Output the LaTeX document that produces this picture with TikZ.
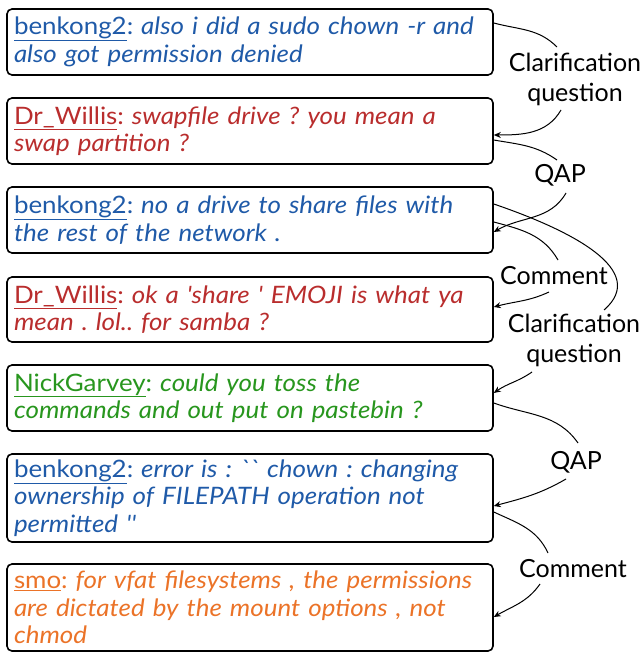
\documentclass[tikz,border=0pt]{standalone}
\usepackage{fontspec}
\setmainfont{Lato}
\newfontfamily\msgfont{Lato}[FakeStretch=1.08]
\usetikzlibrary{arrows.meta}
\definecolor{cblue}{RGB}{31,90,168}
\definecolor{cred}{RGB}{185,45,45}
\definecolor{cgreen}{RGB}{40,150,30}
\definecolor{corange}{RGB}{235,115,40}
\newcommand\speaker[1]{{\upshape\underline{#1}:}}
\frenchspacing
\begin{document}
\begin{tikzpicture}[x=1pt,y=-1pt,
  msg/.style={draw=black, line width=1.6pt, rounded corners=5pt, minimum width=486pt,
    text width=472pt, align=left, inner xsep=7pt, inner ysep=0pt,
    font=\msgfont\fontsize{24}{27.5}\selectfont\itshape\frenchspacing},
  lbl/.style={align=center, inner sep=0pt, font=\fontsize{25}{30}\selectfont},
  rel0/.style={line width=1pt},
  rel/.style={line width=1pt, -{Stealth[length=7pt,width=6pt]}}]
\useasboundingbox (0,0) rectangle (643,652);

\node[msg, minimum height=66pt, text=cblue] (b1) at (250,42)
  {\speaker{benkong2} also i did a sudo chown -r and\\also got permission denied};
\node[msg, minimum height=66pt, text=cred] (b2) at (250,131)
  {\speaker{Dr\_Willis} swapfile drive ? you mean a\\swap partition ?};
\node[msg, minimum height=66pt, text=cblue] (b3) at (250,220)
  {\speaker{benkong2} no a drive to share files with\\the rest of the network .};
\node[msg, minimum height=65pt, text=cred] (b4) at (250,309.5)
  {\speaker{Dr\_Willis} ok a 'share ' EMOJI is what ya\\mean . lol.. for samba ?};
\node[msg, minimum height=66pt, text=cgreen] (b5) at (250,398)
  {\speaker{NickGarvey} could you toss the\\commands and out put on pastebin ?};
\node[msg, minimum height=88pt, text=cblue] (b6) at (250,498)
  {\speaker{benkong2} error is : `` chown : changing\\ownership of FILEPATH operation not\\permitted ''};
\node[msg, minimum height=87pt, text=corange] (b7) at (250,607.5)
  {\speaker{smo} for vfat filesystems , the permissions\\are dictated by the mount options , not\\chmod};

\node[lbl] (cq1) at (575,79) {Clarification\\question};
\node[lbl] (qap1) at (560,175) {QAP};
\node[lbl] (com1) at (554,276) {Comment};
\node[lbl] (cq2) at (574,340) {Clarification\\question};
\node[lbl] (qap2) at (576,462) {QAP};
\node[lbl] (com2) at (573,569) {Comment};

% b1 -> b2 : Clarification question
\draw[rel0] ([yshift=19pt]b1.east) to[out=-15,in=135] ([xshift=-18pt,yshift=32pt]cq1.center);
\draw[rel] ([xshift=-14pt,yshift=-31pt]cq1.center) to[out=-120,in=0] ([yshift=-4pt]b2.east);
% b2 -> b3 : QAP
\draw[rel0] ([yshift=-9pt]b2.east) to[out=-10,in=145] ([xshift=-3pt,yshift=15pt]qap1.center);
\draw[rel] ([xshift=6pt,yshift=-18pt]qap1.center) to[out=-120,in=30] ([yshift=-12pt]b3.east);
% b3 -> b4 : Comment
\draw[rel0] ([yshift=-2pt]b3.east) to[out=-15,in=120] ([xshift=4pt,yshift=16pt]com1.center);
\draw[rel] ([xshift=-5pt,yshift=-16pt]com1.center) to[out=-155,in=15] ([yshift=2.5pt]b4.east);
% b3 -> b5 : Clarification question
\draw[rel0] ([yshift=16pt]b3.east) .. controls +(76,26) and +(46,-40) .. ([xshift=30pt,yshift=30pt]cq2.center);
\draw[rel] ([xshift=-42pt,yshift=-32pt]cq2.center) to[out=-145,in=35] ([yshift=5pt]b5.east);
% b5 -> b6 : QAP
\draw[rel0] ([yshift=-5pt]b5.east) to[out=-20,in=125] ([xshift=2pt,yshift=19pt]qap2.center);
\draw[rel] ([xshift=-10pt,yshift=-17pt]qap2.center) to[out=-150,in=15] ([yshift=-8pt]b6.east);
% b6 -> b7 : Comment
\draw[rel0] ([yshift=-14pt]b6.east) to[out=-25,in=115] ([xshift=-25pt,yshift=16pt]com2.center);
\draw[rel] ([xshift=-33pt,yshift=-15pt]com2.center) to[out=-125,in=30] ([yshift=-9.5pt]b7.east);
\end{tikzpicture}
\end{document}
